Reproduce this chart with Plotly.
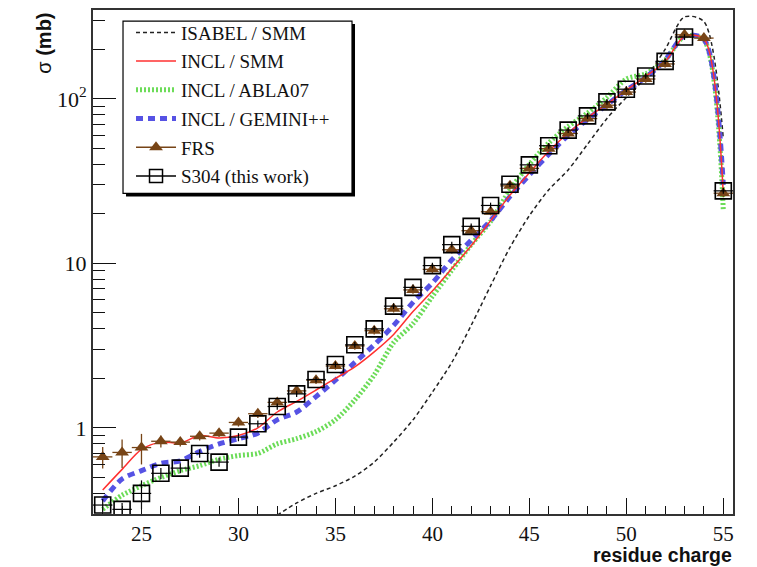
import plotly.graph_objects as go

# Residue charge Z
charge = list(range(23, 56))

# Model calculations (mb)
isabel_smm = [None, None, None, None, None, None, None, None, None,
              0.295, 0.35, 0.40, 0.445, 0.51, 0.62, 0.82, 1.12, 1.65, 2.5, 4.2,
              7.3, 12.5, 19.5, 28, 37, 53, 76, 102, 135, 200, 315, 295, 57]
incl_smm = [0.42, 0.56, 0.74, 0.82, 0.81, 0.90, 0.87, 0.90, 1.0, 1.25, 1.45,
            1.7, 2.0, 2.35, 2.9, 3.7, 5.1, 6.8, 9.3, 12.8, 18.2, 26, 35.5, 48,
            62, 77, 93, 113, 137, 168, 240, 232, 26]
incl_abla07 = [0.32, 0.39, 0.445, 0.50, 0.55, 0.59, 0.645, 0.68, 0.70, 0.80,
               0.86, 0.95, 1.12, 1.48, 2.1, 3.3, 4.3, 6.3, 9.1, 13.0, 18.0,
               28, 40, 54, 68, 82, 102, 132, 142, 172, 240, 228, 21]
incl_gemini = [0.36, 0.49, 0.55, 0.61, 0.63, 0.72, 0.80, 0.86, 0.93, 1.12,
               1.25, 1.55, 1.95, 2.5, 3.2, 4.2, 5.8, 7.6, 10.5, 13.8, 18.2,
               25.5, 34.5, 46, 60, 75, 92, 113, 135, 172, 242, 230, 30]

# Measurements (mb)
frs = [0.667, 0.71, 0.76, 0.83, 0.82, 0.89, 0.93, 1.08, 1.22, 1.43, 1.68,
       1.95, 2.38, 3.15, 3.9, 5.3, 6.9, 9.2, 12.1, 15.8, 20.6, 29.6, 37.8,
       49.8, 61.6, 75.9, 91.5, 110, 132, 163, 245, 234, 26.7]
frs_err = [0.10, 0.14, 0.16, 0.07, 0.05, 0.05, 0.05, 0.06, 0.07, 0.08, 0.09,
           0.10, 0.12, 0.16, 0.20, 0.27, 0.35, 0.46, 0.6, 0.8, 1.0, 1.5, 1.9,
           2.5, 3.1, 3.8, 4.6, 5.5, 6.6, 8.2, 12, 12, 1.5]
s304 = [0.34, 0.32, 0.40, 0.53, 0.57, 0.70, 0.62, 0.88, 1.06, 1.35, 1.61,
        1.97, 2.43, 3.2, 4.0, 5.5, 7.15, 9.7, 13.0, 16.8, 22.5, 30.3, 39.7,
        51.9, 64.6, 78.8, 95.9, 114.5, 137.8, 169, 237.6, None, 27.6]
s304_err = [0.03, 0.03, 0.08, 0.04, 0.04, 0.04, 0.04, 0.05, 0.05, 0.06, 0.07,
            0.08, 0.10, 0.13, 0.16, 0.22, 0.29, 0.39, 0.52, 0.67, 0.9, 1.2,
            1.6, 2.1, 2.6, 3.2, 3.8, 4.6, 5.5, 6.8, 9.5, 0, 1.1]

x_ticks = [25, 30, 35, 40, 45, 50, 55]
y_ticks = [1, 10, 100]
y_ticktext = ["1", "10", "10<sup>2</sup>"]
y_minor = [0.3, 0.4, 0.5, 0.6, 0.7, 0.8, 0.9, 2, 3, 4, 5, 6, 7, 8, 9,
           20, 30, 40, 50, 60, 70, 80, 90, 200, 300]

BROWN = "#774416"
SERIF = "Liberation Serif"
SANS = "Liberation Sans"

fig = go.Figure()

models = [
    ("ISABEL / SMM", isabel_smm, dict(color="#222222", width=1.5, dash="4px,3px"), 1),
    ("INCL / ABLA07", incl_abla07, dict(color="#6cdc58", width=5, dash="2px,2px"), 3),
    ("INCL / GEMINI++", incl_gemini, dict(color="#5652e4", width=5, dash="7px,5px"), 4),
    ("INCL / SMM", incl_smm, dict(color="#ff3030", width=1.5), 2),
]
for name, vals, line, rank in models:
    fig.add_trace(go.Scatter(
        x=charge, y=vals, mode="lines", name=name,
        line=dict(shape="spline", smoothing=0.8, **line),
        legendrank=rank, legendgroup=name, connectgaps=False,
    ))

fig.add_trace(go.Scatter(
    x=charge, y=frs, mode="markers", showlegend=False,
    marker=dict(symbol="triangle-up", size=12, color=BROWN),
    error_y=dict(type="data", array=frs_err, color=BROWN, thickness=1.3, width=0),
    error_x=dict(type="constant", value=0.5, color=BROWN, thickness=1.3, width=0),
))
fig.add_trace(go.Scatter(
    x=charge, y=s304, mode="markers", showlegend=False,
    marker=dict(symbol="square-open", size=16, color="black", line=dict(width=1.6)),
    error_y=dict(type="data", array=s304_err, color="black", thickness=1.2, width=0),
    error_x=dict(type="constant", value=0.5, color="black", thickness=1.2, width=0),
))

# legend entries for the measurements (line + marker)
fig.add_trace(go.Scatter(
    x=[None], y=[None], mode="lines+markers", name="FRS", legendrank=5, legendgroup="FRS",
    line=dict(color=BROWN, width=1.5), marker=dict(symbol="triangle-up", size=12, color=BROWN),
))
fig.add_trace(go.Scatter(
    x=[None], y=[None], mode="lines+markers", name="S304 (this work)", legendrank=6,
    legendgroup="S304", line=dict(color="black", width=1.5),
    marker=dict(symbol="square-open", size=13, color="black", line=dict(width=1.5)),
))

# legend frame with drop shadow
lx0, lx1, ly0, ly1 = 0.0469, 0.4047, 0.636, 0.978
sx, sy = 3 / 640, 3 / 506
fig.add_shape(type="rect", xref="paper", yref="paper", x0=lx0 + sx, x1=lx1 + sx,
              y0=ly0 - sy, y1=ly1 - sy, fillcolor="black", line=dict(width=0), layer="above")
fig.add_shape(type="rect", xref="paper", yref="paper", x0=lx0, x1=lx1, y0=ly0, y1=ly1,
              fillcolor="white", line=dict(color="black", width=1.2), layer="above")

fig.add_annotation(text="σ <b>(mb)</b>", xref="paper", yref="paper", x=-0.077, y=0.999,
                   textangle=-90, showarrow=False, xanchor="center", yanchor="top",
                   font=dict(family=SANS, size=20, color="#111"))
fig.add_annotation(text="<b>residue charge</b>", xref="paper", yref="paper", x=1.0, y=-0.1047,
                   showarrow=False, xanchor="right", yanchor="bottom", borderpad=0,
                   font=dict(family=SANS, size=19.5, color="#111"))

fig.update_layout(
    width=757, height=567,
    margin=dict(l=93, r=24, t=8, b=53),
    paper_bgcolor="white", plot_bgcolor="white",
    showlegend=True,
    legend=dict(x=lx0 + 0.0125, y=0.993, xanchor="left", yanchor="top",
                bgcolor="rgba(0,0,0,0)", borderwidth=0, itemwidth=40,
                tracegroupgap=1, traceorder="grouped",
                font=dict(family=SERIF, size=19, color="#111")),
    xaxis=dict(range=[22.5, 55.5], tickvals=x_ticks, ticks="inside", ticklen=16,
               tickwidth=1.2, tickcolor="#111", showline=True, linewidth=2, linecolor="#333",
               mirror=True, showgrid=False, zeroline=False,
               tickfont=dict(family=SERIF, size=21, color="#111"),
               minor=dict(ticks="inside", ticklen=8, tickwidth=1.2, tickcolor="#111", dtick=1,
                          showgrid=False)),
    yaxis=dict(type="log", range=[-0.523, 2.54], tickvals=y_ticks, ticktext=y_ticktext,
               ticks="inside", ticklen=23, tickwidth=1.2, tickcolor="#111",
               showline=True, linewidth=2, linecolor="#333", mirror=True, showgrid=False,
               zeroline=False, tickfont=dict(family=SERIF, size=22, color="#111"),
               minor=dict(ticks="inside", ticklen=12, tickwidth=1.2, tickcolor="#111",
                          tickvals=y_minor, showgrid=False)),
)

fig.write_html("out.html")
